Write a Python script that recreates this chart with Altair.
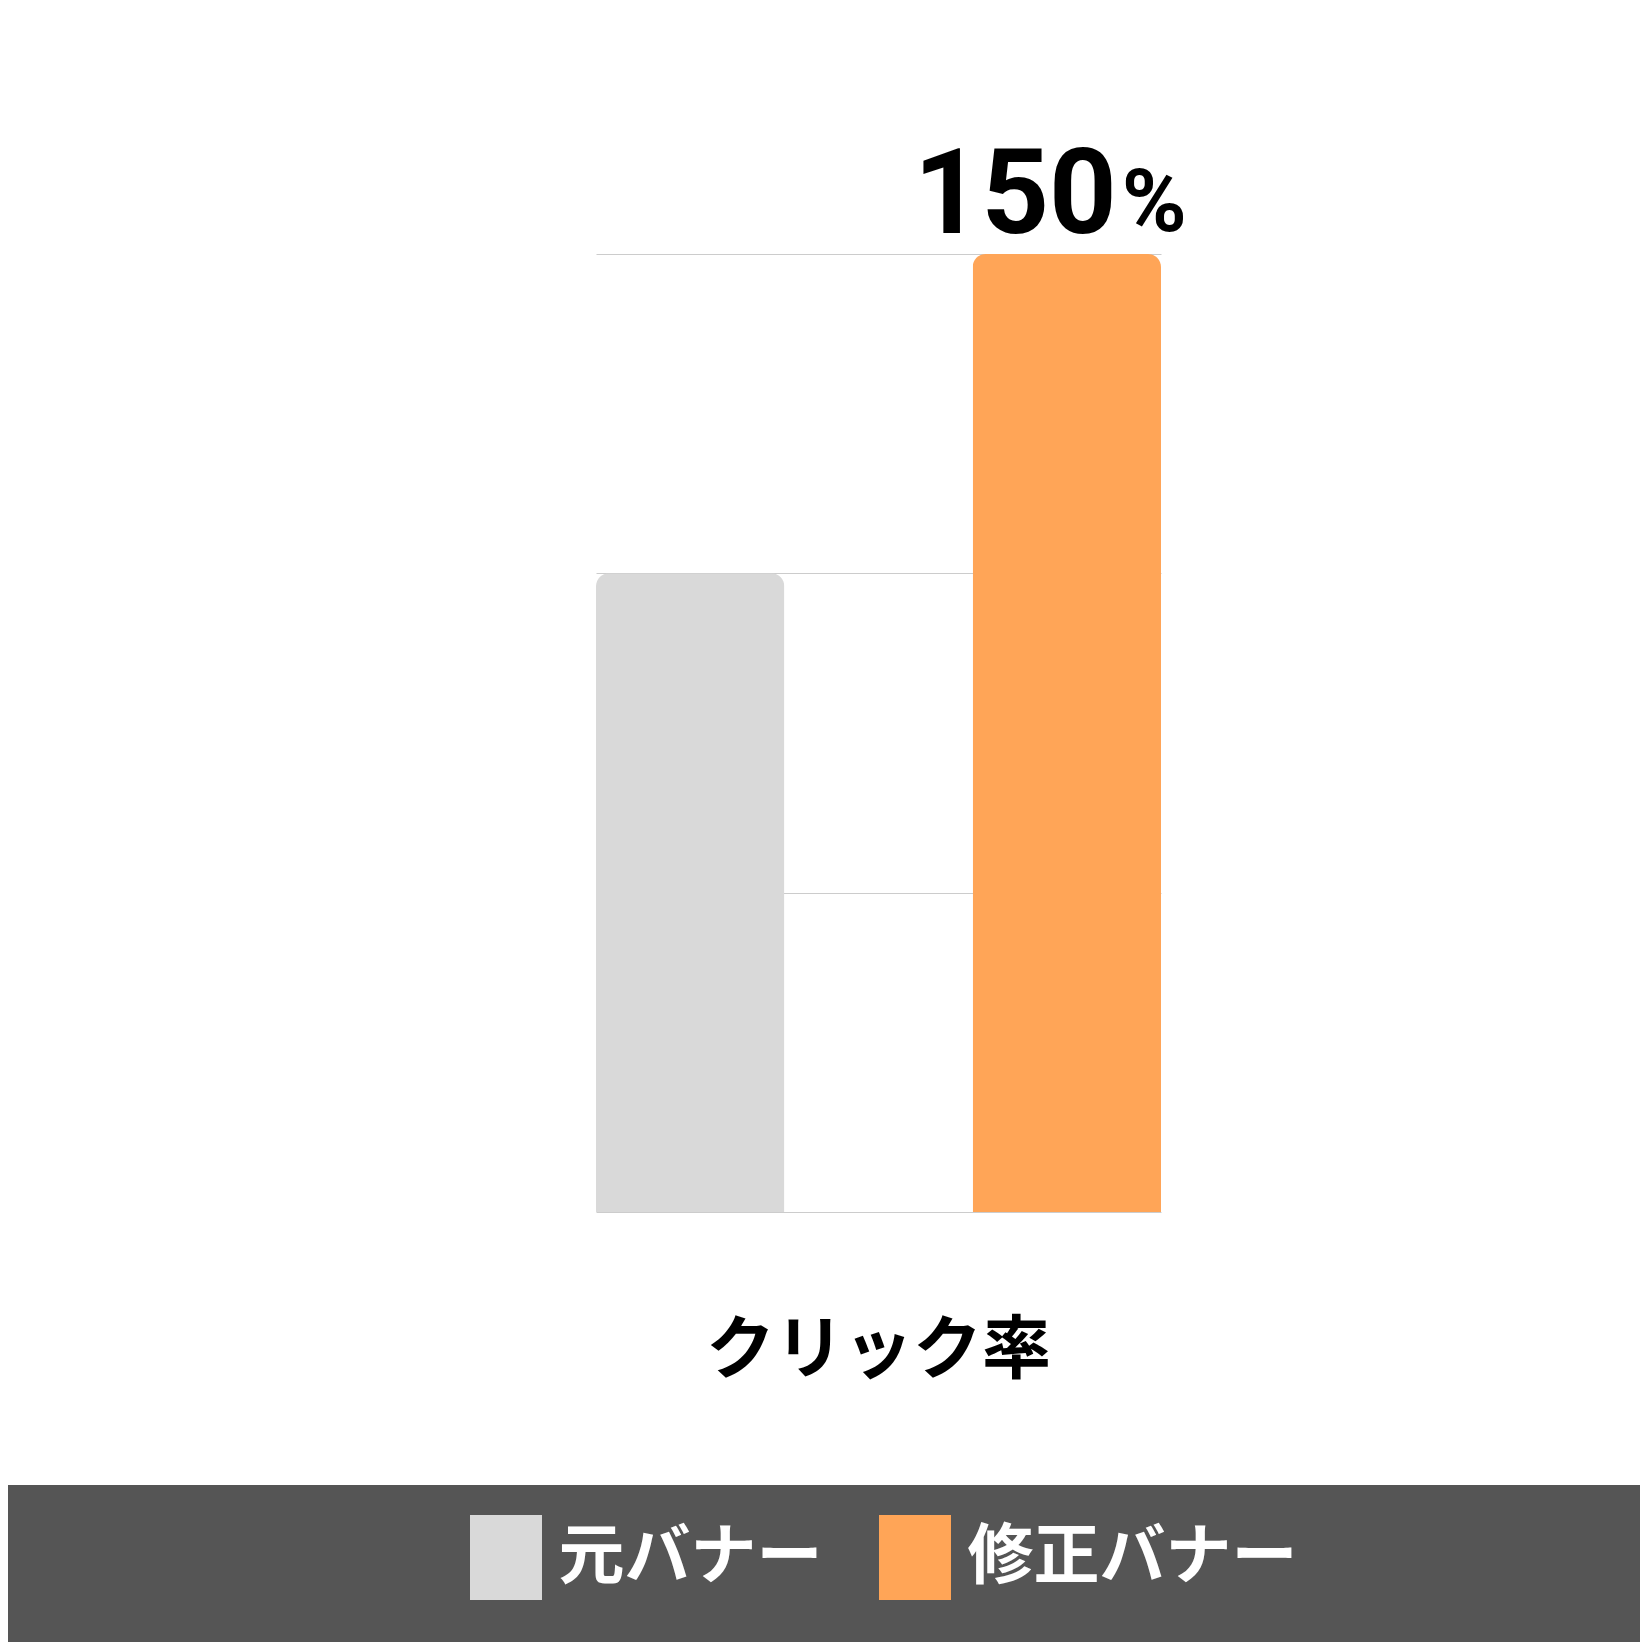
import altair as alt
import pandas as pd

categories = ["クリック率"]
series = ["元バナー", "修正バナー"]
values = [100, 150]
colors = ["#D9D9D9", "#FFA557"]
grid_values = [0, 50, 100, 150]
unit = ["%"]

df = pd.DataFrame({
    "指標": [categories[0]] * len(series),
    "系列": series,
    "値": values,
})
df["単位"] = unit[0]

JP = "Noto Sans CJK JP"
NUM = "Roboto"

x_enc = alt.X("指標:N", title=None, sort=categories,
              scale=alt.Scale(paddingInner=0, paddingOuter=0),
              axis=alt.Axis(labelAngle=0, ticks=False, domain=False,
                            labelFont=JP, labelFontWeight="bold", labelFontSize=69,
                            labelColor="#000000", labelBaseline="middle",
                            labelPadding=139, labelLimit=1000, grid=False))
xo_enc = alt.XOffset("系列:N", sort=series,
                     scale=alt.Scale(domain=series, paddingInner=0.5, paddingOuter=0))
y_enc = alt.Y("値:Q", title=None,
              scale=alt.Scale(domain=[0, 150], nice=False),
              axis=alt.Axis(values=grid_values, labels=False, ticks=False, domain=False,
                            grid=True, gridColor="#CCCCCC", gridWidth=1))

band = alt.Chart(pd.DataFrame({"帯": [0]})).mark_rect(color="#555555").encode(
    x=alt.value(-588), x2=alt.value(1044), y=alt.value(1231), y2=alt.value(1388)
)

bars = alt.Chart(df).mark_bar(cornerRadiusTopLeft=13, cornerRadiusTopRight=13).encode(
    x=x_enc,
    xOffset=xo_enc,
    y=y_enc,
    color=alt.Color("系列:N", sort=series,
                    scale=alt.Scale(domain=series, range=colors),
                    legend=alt.Legend(
                        title=None, orient="none", direction="horizontal",
                        legendX=-132.5, legendY=1261, padding=0,
                        symbolType="M-0.847,-1H0.847V1H-0.847Z",
                        symbolSize=7225, symbolStrokeWidth=0, symbolOpacity=1,
                        labelFont=JP, labelFontWeight="bold", labelFontSize=66,
                        labelColor="#FFFFFF", labelOffset=10, labelLimit=600,
                        columnPadding=50,
                    )),
)

top = df[df["系列"] == series[1]]
num_label = alt.Chart(top).mark_text(
    font=NUM, fontWeight="bold", fontSize=118, color="#000000",
    align="right", baseline="alphabetic", dx=50, dy=-21,
).encode(
    x=alt.X("指標:N", sort=categories), xOffset=alt.XOffset("系列:N", sort=series),
    y="値:Q", text=alt.Text("値:Q", format=".0f"),
)
pct_label = alt.Chart(top).mark_text(
    font=NUM, fontWeight="bold", fontSize=88, color="#000000",
    align="left", baseline="alphabetic", dx=55, dy=-23,
).encode(
    x=alt.X("指標:N", sort=categories), xOffset=alt.XOffset("系列:N", sort=series),
    y="値:Q", text="単位:N",
)

chart = alt.layer(band, bars, num_label, pct_label).properties(
    width=565, height=958,
    autosize=alt.AutoSizeParams(type="none"),
    padding={"left": 588, "top": 246, "right": 479, "bottom": 430},
    background="#FFFFFF",
).configure_view(strokeWidth=0)

chart.save("out.html", embed_options={"renderer": "svg", "actions": False})
